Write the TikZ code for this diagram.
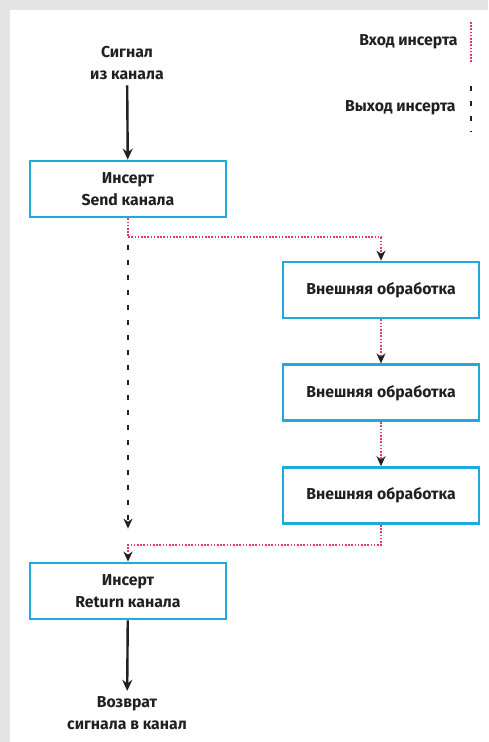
\documentclass[tikz,border=0pt]{standalone}
\usepackage{fontspec}
\setmainfont{Fira Sans}
\usepackage{xcolor}
\usepackage{tikz}
\usetikzlibrary{arrows.meta,positioning}
\definecolor{boxCyan}{RGB}{30,170,220}
\definecolor{insPink}{RGB}{232,55,105}
\definecolor{frameGrey}{RGB}{228,228,228}
\definecolor{inkBlack}{RGB}{35,31,32}

\begin{document}
\begin{tikzpicture}[x=1pt,y=-1pt,
  blk/.style={draw=boxCyan,line width=2.8pt,minimum width=196pt,minimum height=56pt,align=center,font=\fontsize{15.8}{22}\selectfont\bfseries,text=inkBlack},
  lbl/.style={align=center,font=\fontsize{15.8}{22}\selectfont\bfseries,text=inkBlack},
  sig/.style={-{Stealth[length=11pt,width=10pt]},line width=2.4pt,draw=inkBlack},
  insin/.style={-{Stealth[length=10pt,width=9pt,color=inkBlack]},dash pattern=on 1.6pt off 1.6pt,line width=2pt,draw=insPink},
  insout/.style={-{Stealth[length=10pt,width=9pt]},line width=2pt,dash pattern=on 5pt off 10pt,draw=inkBlack}
]
% frame
\fill[frameGrey] (0,0) rectangle (488,742);
\fill[white] (10,10) rectangle (488,742);
\useasboundingbox (0,0) rectangle (488,742);

% legend
\node[lbl,anchor=east] (legin) at (461,42) {Вход инсерта};
\node[lbl,anchor=east] (legout) at (459,108) {Выход инсерта};
\coordinate (li1) at (471,22);
\coordinate (li2) at (471,62);
\coordinate (lo1) at (471,86);
\coordinate (lo2) at (471,132);
\draw[dash pattern=on 1.6pt off 1.6pt,line width=2pt,draw=insPink] (li1) -- (li2);
\draw[line width=2pt,dash pattern=on 5pt off 10pt,draw=inkBlack] (lo1) -- (lo2);

% main chain
\node[lbl] (src) at (127,63) {Сигнал\\из канала};
\node[blk] (send) at (128,189) {Инсерт\\Send канала};
\node[blk] (ext1) at (381,290) {Внешняя обработка};
\node[blk,below=44pt of ext1] (ext2) {Внешняя обработка};
\node[blk,below=44pt of ext2] (ext3) {Внешняя обработка};
\node[blk] (ret) at (128,591) {Инсерт\\Return канала};
\node[lbl] (dst) at (127,713) {Возврат\\сигнала в канал};

\draw[sig,shorten <=2pt] (src) -- (send);
\draw[insin] (send.south) -- ++(0,19) -| (ext1.north);
\draw[insin] (ext1) -- (ext2);
\draw[insin] (ext2) -- (ext3);
\draw[insin] (ext3.south) -- ++(0,20) -| (ret.north);
\draw[insout,shorten <=27pt,shorten >=33pt] (send) -- (ret);
\draw[sig,shorten >=2pt] (ret) -- (dst);
\end{tikzpicture}
\end{document}
